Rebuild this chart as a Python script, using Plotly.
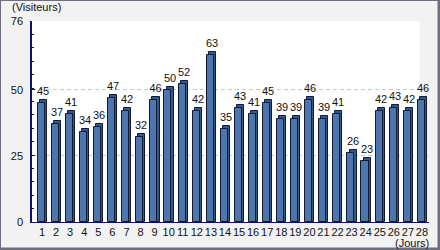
import plotly.graph_objects as go

days = [str(i) for i in range(1, 29)]
visitors = [45, 37, 41, 34, 36, 47, 42, 32, 46, 50, 52, 42, 63, 35,
            43, 41, 45, 39, 39, 46, 39, 41, 26, 23, 42, 43, 42, 46]
y_ticks = [0, 25, 50, 76]
y_max = 76
y_label = "(Visiteurs)"
x_label = "(Jours)"

W, H = 440, 250
L, R, T, B = 32, 11, 21, 28
PW, PH = W - L - R, H - T - B
STEP = 14.04  # px per category

def px(x):
    return (x - L) / PW

def py(y):
    return (H - B - y) / PH

xs = list(range(1, 29))
depth = 3 / (PH / y_max)

fig = go.Figure()
# depth (3D side/top) layer
fig.add_trace(go.Bar(
    x=xs, y=[v + depth for v in visitors], width=0.5, offset=-0.15,
    marker=dict(color="#34588c", line=dict(color="#111a33", width=1)),
    text=[str(v) for v in visitors], textposition="outside",
    constraintext="none",
    textfont=dict(family="Liberation Sans", size=11, color="#111"),
    cliponaxis=False, hoverinfo="skip", showlegend=False,
))
# front face
fig.add_trace(go.Bar(
    x=xs, y=visitors, width=0.5, offset=-0.3,
    marker=dict(color="#4d76ae", line=dict(color="#111a33", width=1)),
    cliponaxis=False, showlegend=False,
))

shapes = [
    # white plotting background (ends before the last bar, as in the original)
    dict(type="rect", xref="paper", yref="paper", x0=px(32), x1=px(419.5), y0=0, y1=1,
         fillcolor="#ffffff", line=dict(width=0), layer="below"),
    dict(type="rect", xref="paper", yref="paper", x0=px(437.5), x1=px(440), y0=py(250), y1=py(0),
         fillcolor="#6e6e80", line=dict(width=0), layer="above"),
    dict(type="rect", xref="paper", yref="paper", x0=px(0), x1=px(440), y0=py(250), y1=py(247.5),
         fillcolor="#6e6e80", line=dict(width=0), layer="above"),
    dict(type="rect", xref="paper", yref="paper", x0=px(0), x1=px(440), y0=py(1), y1=py(0),
         fillcolor="#6e6e80", line=dict(width=0), layer="above"),
    dict(type="rect", xref="paper", yref="paper", x0=px(0), x1=px(1), y0=py(250), y1=py(0),
         fillcolor="#6e6e80", line=dict(width=0), layer="above"),
]

fig.update_layout(
    width=W, height=H, autosize=False,
    margin=dict(l=L, r=R, t=T, b=B, pad=0, autoexpand=False),
    paper_bgcolor="#f2f2f2", plot_bgcolor="rgba(0,0,0,0)",
    barmode="overlay", bargap=0,
    font=dict(family="Liberation Sans", size=11, color="#111"),
    shapes=shapes,
    annotations=[
        dict(text=y_label, xref="paper", yref="paper", x=px(10), y=py(7),
             xanchor="left", yanchor="middle", showarrow=False,
             font=dict(family="Liberation Sans", size=11, color="#111")),
        dict(text=x_label, xref="paper", yref="paper", x=px(431), y=py(242.5),
             xanchor="right", yanchor="middle", showarrow=False,
             font=dict(family="Liberation Sans", size=11, color="#111")),
    ],
)

fig.update_xaxes(
    range=[1 - 10 / STEP, 28 + 7 / STEP],
    tickmode="array", tickvals=xs, ticktext=days,
    tickangle=0, automargin=False,
    showgrid=False, zeroline=False,
    showline=True, linecolor="#10106a", linewidth=1,
    ticks="", ticklabelstandoff=0,
    tickfont=dict(family="Liberation Sans", size=11, color="#111"),
)
fig.update_yaxes(
    range=[0, y_max], automargin=False,
    tickmode="array", tickvals=y_ticks, ticktext=[str(t) for t in y_ticks],
    showgrid=True, gridcolor="#c8c8c8", griddash="4px,3px", gridwidth=1,
    zeroline=False,
    showline=True, linecolor="#10106a", linewidth=1.5,
    ticks="inside", ticklen=3, tickcolor="#10106a",
    minor=dict(tickmode="linear", tick0=0, dtick=y_max / 15, ticks="inside",
               ticklen=2, tickcolor="#10106a", showgrid=False),
    ticklabelstandoff=5,
    tickfont=dict(family="Liberation Sans", size=11, color="#111"),
)

fig.write_html("out.html")
